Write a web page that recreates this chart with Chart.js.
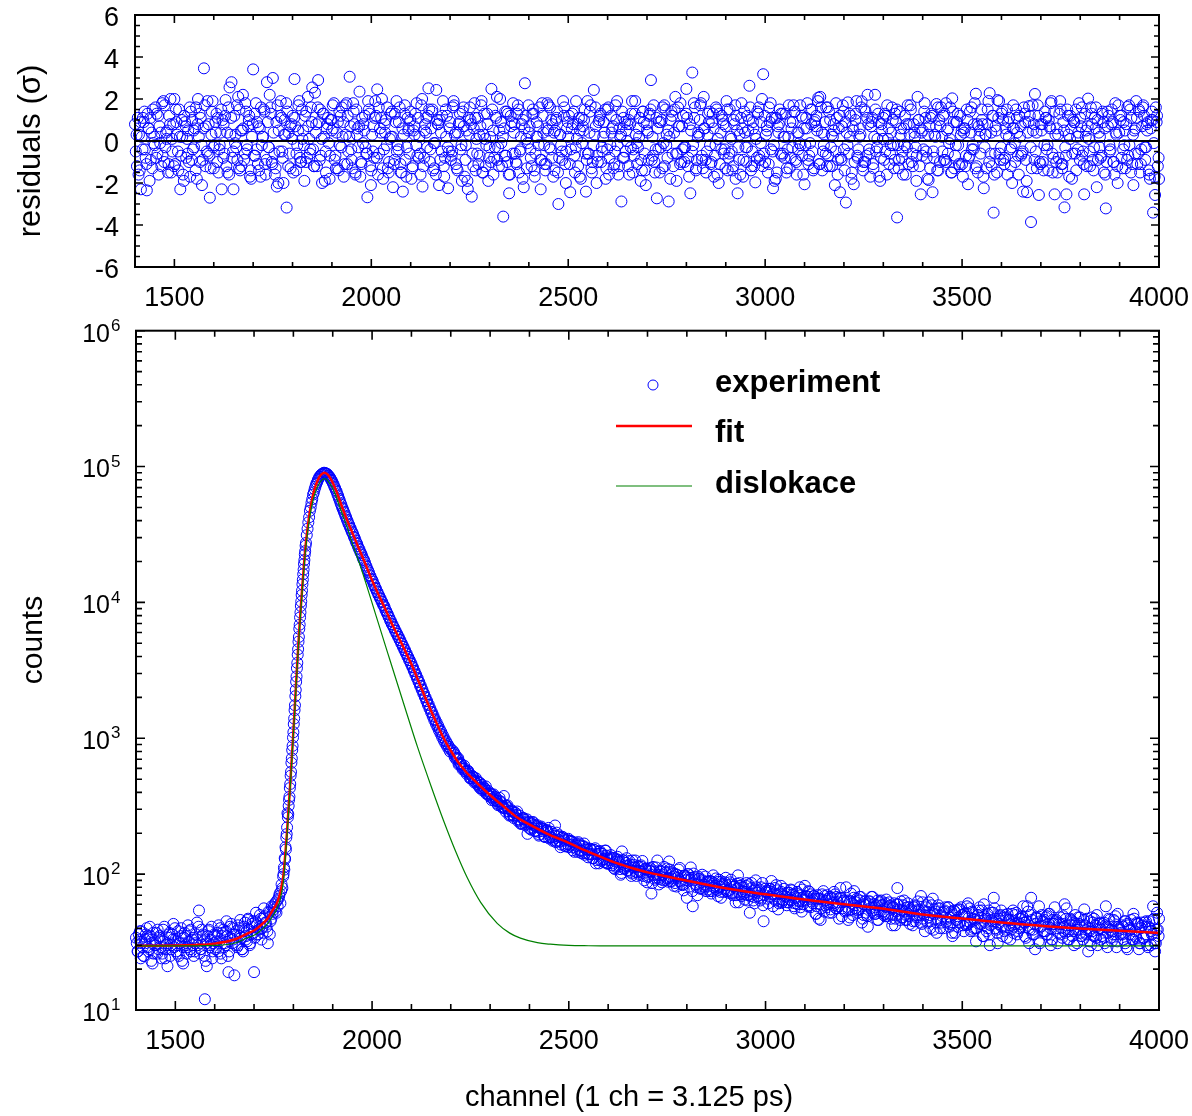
<!DOCTYPE html>
<html>
<head>
<meta charset="utf-8">
<script src="https://cdn.jsdelivr.net/npm/chart.js@4.4.1/dist/chart.umd.min.js"></script>
<style>
  html, body { margin: 0; padding: 0; background: #fff; }
  #wrap { position: relative; width: 1192px; height: 1116px; }
  #residBox { position: absolute; left: 0; top: 0; }
  #countsBox { position: absolute; left: 0; top: 300px; }
</style>
</head>
<body>
<div id="wrap">
  <div id="residBox"><canvas id="residChart" width="1192" height="320"></canvas></div>
  <div id="countsBox"><canvas id="countsChart" width="1192" height="816"></canvas></div>
</div>
<script>
const FONT = "'Liberation Sans', Arial, sans-serif";
const BOTTOM_TOP = 300; // page offset of the lower canvas

const channelMin = 1400, channelMax = 4000;
const xTickValues = [1500, 2000, 2500, 3000, 3500, 4000];
const residTickValues = [-6, -4, -2, 0, 2, 4, 6];
const countExponents = [1, 2, 3, 4, 5, 6];
const zeroLevel = 0;

// residuals (sigma), three interleaved runs, step 5 channels
const residStep = 5;
const residStartA = 1400;
const residualsA = [
  0.8, -1.2, 0.3, -2.3, 1.1, -0.4, -2.35, 0.6, -0.9, 1.5,
  -0.2, 1.3, -1.6, 0.4, -0.7, 1.7, 0.1, -1.1, 2.0, -0.5,
  2.0, 0.9, -1.4, -2.3, 0.2, 1.2, -0.8, 0.5, -1.7, 1.0,
  -0.3, 1.6, 2.0, -1.0, -2.1, 3.46, 0.7, -0.6, -2.7, 1.4,
  -1.3, 0.4, 1.1, -0.2, -2.3, 0.8, 1.95, -1.5, 2.55, 2.8,
  -2.3, 0.3, -0.9, 1.5, -1.2, 0.6, 1.8, -0.4, 1.2, -1.8,
  3.41, -0.7, 0.9, -1.4, 1.6, 0.2, -1.1, 2.8, -0.3, 1.3,
  3.0, -1.6, -2.17, 0.5, 1.9, -0.8, 1.0, -3.17, 0.4, -1.3,
  1.2, 2.95, -0.6, 1.7, -1.0, 0.1, -1.9, 1.4, 0.7, -0.4,
  2.55, -1.2, 0.8, 2.9, 1.5, -2.0, 0.2, -1.5, 1.1, -0.7,
  0.5, 1.8, -1.3, 0.9, -0.2, 1.6, -1.7, 0.3, 1.2, 3.06,
  -0.9, 1.4, -1.6, 0.6, 2.35, -1.1, 0.8, -0.3, -2.68, 1.3,
  -1.4, 0.7, 1.9, 2.46, -0.6, 1.1, -1.8, 0.4, 1.6, -1.0,
  0.2, -2.2, 1.3, -0.5, 0.9, -1.5, -2.41, 1.7, -0.3, 0.6,
  1.4, -1.2, 0.3, 1.8, -0.8, -1.6, -2.17, 0.5, 1.1, 2.51,
  -0.4, 1.5, -1.3, 2.43, 0.8, -0.9, 1.2, -1.7, 0.2, -2.25,
  0.9, -0.5, 1.7, -1.1, 0.4, 1.3, -1.9, 0.7, -0.2, -2.29,
  1.6, -2.65, 0.6, -1.4, 1.1, -0.7, 1.9, 0.3, -1.2, 0.8,
  -0.3, 2.48, -1.6, 1.2, -0.9, 0.5, -0.1, -3.6, 1.4, -1.0,
  -2.49, 0.7, 1.8, -0.6, 1.3, -1.5, 0.2, 1.0, 2.75, -1.3,
  0.4, -0.8, 1.5, -1.7, 0.9, -0.2, -2.3, 1.2, -1.1, 0.6,
  1.7, -0.4, 0.8, -1.4, 1.1, -3.0, 0.3, -0.9, 1.6, -0.5,
  0.2, -2.44, 1.3, -0.7, 1.9, -1.2, 0.5, -0.1, 1.0, -2.41,
  -0.6, 1.4, -1.5, 2.43, 0.7, -1.0, 1.2, -0.3, 0.9, -1.8,
  1.5, -0.8, 0.4, -1.3, 1.7, -0.2, 0.6, -2.88, 1.1, -0.5,
  0.8, -1.6, 1.3, -0.4, 1.9, -1.1, 0.2, -0.9, 1.4, -1.4,
  0.5, 1.2, 2.9, -0.7, -1.5, -2.73, 0.9, -0.3, 1.6, -1.2,
  0.3, -2.88, 1.0, -0.6, 1.5, -1.9, 0.7, 1.8, -0.4, -1.0,
  2.48, -0.8, -2.49, 3.26, 1.1, -1.3, 0.4, 1.7, -0.9, 0.6,
  -1.5, 1.3, -0.2, 0.9, -1.7, 1.6, 0.1, -1.1, 1.2, -0.6,
  0.7, -1.4, 1.5, -0.5, 1.0, -1.8, -2.49, 0.3, 1.8, -0.9,
  -0.3, 1.2, 2.63, -1.2, 0.6, -1.97, 1.4, -0.7, 0.9, 3.18,
  -1.0, 0.5, 1.6, -0.4, -2.25, 1.1, -1.5, 0.8, 1.3, -0.6,
  0.2, -1.3, 1.7, -0.8, 0.9, 1.4, -1.6, 0.4, -0.2, 1.1,
  -2.06, 0.6, -1.1, 1.5, -0.5, 0.9, 1.2, 2.06, 2.1, -1.4,
  0.3, 1.6, -0.7, 1.0, -1.2, 0.5, 1.8, -0.9, -2.44, 0.7,
  -0.4, -2.93, 1.84, 0.2, -1.5, -2.06, 1.3, -0.8, 0.6, 1.89,
  -1.0, 1.4, 2.2, -0.6, 0.9, -1.3, 1.5, 0.1, -1.7, 0.8,
  1.1, -0.5, 1.7, -1.1, 0.4, -0.2, 1.3, -3.64, -0.9, 0.6,
  -1.6, 1.2, -0.3, 0.8, 1.5, -1.2, 0.2, -0.7, 1.0, -2.54,
  0.5, 1.8, -0.8, -1.86, 1.1, -2.44, 0.3, 1.76, -1.4, 0.7,
  -0.5, 1.3, -1.0, 0.6, 1.6, 2.03, -1.3, 0.9, -0.2, 1.2,
  -1.1, 0.4, -0.7, -2.06, 1.4, -0.4, 0.8, 2.25, -1.5, 0.5,
  1.0, -2.25, 0.3, 1.5, 2.28, -1.2, -3.41, 0.7, 1.95, -0.6,
  1.3, -0.9, 0.6, -1.6, 1.1, -0.3, 1.7, -1.0, 0.4, 1.2,
  -0.7, -2.41, 0.9, -2.44, 1.66, -3.86, 0.5, 2.24, -1.3, -2.57,
  0.8, -1.0, 1.4, -0.4, 1.0, 1.8, -1.5, -2.54, 0.6, -0.8,
  1.5, -1.1, -3.16, -2.54, 0.3, 1.2, -0.6, 0.9, -1.4, 0.4,
  1.1, -0.7, -2.54, 0.5, 2.02, -1.2, 0.8, -0.3, 1.6, -0.9,
  0.2, 1.3, -1.5, -3.21, 0.7, -0.5, 1.5, -1.0, 0.4, -2.0,
  1.2, -0.8, 0.9, -1.3, 1.62, -0.2, 1.1, -2.1, 0.6, -1.1,
  1.4, -0.4, 1.7, -0.9, 0.5, -1.6, 1.0, -3.41, -2.57, 1.2,
  -1.81
];
const residStartB = 1402;
const residualsB = [
  -0.5, 1.1, -1.4, 0.2, 0.9, -0.8, 1.3, -1.9, 0.4, -0.1,
  1.6, -0.6, 0.7, -1.2, 1.9, -0.3, 0.5, 1.2, -1.5, 0.8,
  -1.1, 0.3, 1.5, -0.7, -1.6, 0.9, 0.1, -1.0, 1.4, -0.4,
  0.6, -1.8, 0.2, 1.1, -0.9, 1.7, -0.5, 0.8, -1.3, 1.9,
  -0.2, 1.3, -1.5, 0.4, 1.0, -0.6, -1.2, 1.6, 0.3, -0.8,
  1.2, -0.3, 2.1, -1.4, 0.5, -0.9, 1.4, 0.7, -1.7, 0.2,
  -0.7, 1.8, -1.1, 0.6, -0.2, 1.5, -1.6, 0.9, 2.2, -1.0,
  0.4, -1.3, 1.7, -0.5, 1.1, -2.0, 0.3, 1.4, -0.6, 0.8,
  -1.5, 0.7, -0.2, 1.9, -1.0, 0.5, 1.2, -0.8, 0.1, 1.6,
  -0.4, 2.3, -1.2, 0.9, -0.7, 1.3, -1.9, 0.6, -0.1, 1.0,
  1.7, -0.9, 0.4, -1.4, 1.2, 0.2, -1.1, 1.8, -0.5, 0.7,
  -1.3, 0.8, 1.5, -0.3, -1.7, 1.1, 0.5, -0.6, 1.9, -1.2,
  0.3, -0.8, 1.2, -1.6, 0.6, 2.0, -0.4, 1.0, -1.3, 0.1,
  1.4, -1.1, 0.9, -0.2, 1.6, -1.5, 0.3, -0.9, 1.1, -0.6,
  -1.8, 0.5, 1.3, -0.7, 0.2, 1.7, -1.2, 0.8, -0.3, 1.5,
  0.6, -1.4, -0.1, 1.0, -2.1, 0.4, 1.9, -0.8, 1.2, -0.5,
  -0.9, 1.6, 0.3, -1.3, 0.8, -0.4, 1.4, -1.7, 0.5, 1.1,
  1.0, -0.6, 1.8, 0.1, -1.1, 0.7, -1.5, 1.3, -0.2, -1.9,
  0.2, 1.5, -0.8, 1.1, -0.3, 2.0, -1.2, 0.6, -0.7, 1.3,
  -1.6, 0.9, 0.4, -1.0, 1.7, -0.5, 0.8, -2.2, 1.2, -0.1,
  0.7, -1.2, 1.3, -0.6, 0.2, 1.6, -0.9, 0.4, -1.4, 1.8,
  -0.3, 1.0, -1.7, 0.5, 1.4, -0.8, -0.2, 1.9, -1.1, 0.6,
  1.2, -0.4, 0.8, -1.5, 0.1, 1.1, -1.8, 0.7, 1.5, -0.9,
  -0.6, 1.7, -1.0, 0.3, -2.0, 0.9, 1.3, -0.5, 0.4, -1.3,
  1.6, -0.2, 0.6, -1.1, 1.0, -1.6, 0.2, 1.4, -0.8, 0.5,
  -1.2, 0.8, 1.9, -0.7, 0.3, -0.3, 1.1, -1.4, 0.9, -2.1,
  0.4, 1.3, -0.9, 1.7, -0.4, 0.6, -1.5, 1.0, -0.1, 1.5,
  -0.8, 0.2, 1.4, -1.2, 2.1, -0.6, 0.7, -1.0, 1.2, -0.3,
  1.1, -1.7, 0.5, -0.2, 1.6, -0.9, 0.3, 1.8, -1.3, 0.6,
  -0.5, 0.9, -1.1, 1.3, -0.7, 1.5, -2.0, 0.4, 1.0, -0.4,
  1.9, -0.8, 0.2, -1.4, 0.8, 1.2, -0.3, -1.6, 0.6, 1.4,
  -1.0, 0.5, 1.6, -0.5, -1.2, 0.1, 1.3, -0.9, 2.0, -0.6,
  0.3, -1.5, 0.9, 1.1, -0.2, -1.8, 0.7, 1.5, -0.7, 0.2,
  1.3, -0.4, -1.3, 0.6, 1.7, -0.9, 0.4, -0.1, 1.2, -1.6,
  -0.2, 1.8, -0.7, 0.8, -1.4, 1.0, 0.5, -1.1, 1.6, -0.5,
  0.9, -1.2, 1.4, -0.3, 0.2, -2.1, 1.1, 0.6, -0.8, 1.7,
  -1.4, 0.4, -0.6, 1.2, 0.7, -1.0, 1.9, -0.4, 0.3, -1.2,
  1.5, -0.7, 0.8, -1.7, 1.1, 0.2, -0.5, 1.3, -1.9, 0.5,
  -0.9, 1.2, 0.1, -0.6, 1.6, -1.3, 0.9, -0.2, 1.4, -0.8,
  0.6, -1.6, 1.7, 0.3, -1.0, 0.8, -0.3, 2.1, -1.2, 0.4,
  -0.4, 1.1, -1.8, 0.7, 1.3, -0.5, 0.2, -1.4, 1.0, 1.6,
  1.2, -0.9, 0.5, -0.1, -1.5, 1.4, -0.7, 0.9, -1.1, 0.3,
  -1.7, 0.6, 1.5, -0.8, 0.4, -0.2, 1.8, -1.2, 0.7, -0.6,
  0.8, -0.3, -1.3, 1.9, -0.6, 1.2, -1.6, 0.5, 1.1, -0.9,
  1.4, -1.1, 0.3, 0.9, -0.4, -2.0, 0.6, 1.5, -0.7, 0.2,
  -0.6, 1.6, -0.9, 0.4, 1.2, -1.3, 0.8, -0.5, 1.7, -1.0,
  0.5, -1.4, 1.1, -0.2, 0.7, 1.9, -0.8, 0.3, -1.5, 1.3,
  -1.1, 0.9, -0.3, 1.5, -1.7, 0.6, 1.0, -0.6, 0.2, 1.8,
  0.7, -0.5, 1.3, -1.2, 0.1, 1.6, -0.9, 1.1, -2.2, 0.4,
  -0.8, 1.4, 0.6, -1.0, 1.2, -0.4, 0.9, -1.6, 0.3, 1.7,
  1.0, -1.3, -0.2, 0.8, -0.7, 1.5, -1.1, 0.5, 1.9, -0.6,
  -1.5, 0.7, 1.2, -0.3, 0.9, -1.8, 1.4, -0.1, 1.6, -1.2
];
const residStartC = 1404;
const residualsC = [
  0.3, -1.6, 0.9, -0.4, 1.4, -1.1, 0.6, 1.1, -1.3, 0.2,
  -0.8, 1.2, -0.1, 1.8, -1.0, 0.4, -1.5, 0.8, 0.1, -1.2,
  1.5, -0.5, 0.2, 1.0, -1.9, 0.7, -0.6, 1.6, -0.9, 0.5,
  -1.4, 0.8, 1.3, -0.2, 0.6, -1.2, 1.9, -0.7, 0.3, -0.3,
  0.9, -1.0, -0.4, 1.5, -0.8, 1.2, 0.4, -1.6, 1.1, -0.5,
  -0.1, 1.7, -1.3, 0.5, 2.2, -0.6, -0.2, 1.0, -1.4, 0.8,
  1.3, -0.4, 0.7, -1.7, 0.2, 1.4, -0.9, -0.3, 1.6, -1.1,
  -0.6, 0.9, -2.0, 1.2, -0.5, 0.3, 1.8, -1.2, 0.7, 0.1,
  1.1, -1.4, 0.5, -0.8, 1.5, -0.2, -1.0, 2.1, -0.6, 0.9,
  -1.2, 0.4, 1.6, -0.9, 0.1, 1.3, -0.5, 0.8, -1.8, 1.0,
  0.6, -0.7, -1.3, 1.4, -0.3, 0.9, 1.7, -1.1, 0.2, -0.4,
  1.8, -1.5, 0.3, 0.7, -1.0, -0.1, 1.2, -0.6, 1.5, -2.1,
  -0.5, 1.1, -0.8, 1.6, 0.4, -1.3, 0.8, -0.2, -1.5, 1.3,
  0.2, -0.9, 1.9, -0.4, -1.1, 0.6, 1.3, -1.7, 0.5, 1.0,
  -1.3, 0.7, -0.2, 1.1, -0.6, 2.0, -0.8, 0.4, 1.2, -1.0,
  1.4, -0.1, -1.6, 0.8, 1.0, -0.5, -1.2, 1.5, -0.3, 0.6,
  -0.7, 1.9, 0.4, -1.4, 0.9, -0.2, 1.6, -0.9, -1.9, 0.3,
  0.8, -1.2, 1.1, -0.6, 0.3, 1.7, -1.5, 0.1, 1.3, -0.8,
  -1.0, 0.5, -0.3, 2.1, -1.2, 0.9, 0.2, -0.7, 1.4, -1.6,
  1.2, -0.6, 0.8, -1.1, 1.5, -0.4, -1.8, 0.6, 0.1, 1.7,
  -0.4, 1.3, -1.4, 0.2, 0.7, -0.9, 1.8, -0.2, -1.1, 0.5,
  1.6, -0.8, 0.4, 1.0, -1.5, 0.3, -0.5, 1.2, -2.0, 0.9,
  -1.1, 0.6, 1.4, -0.3, 0.8, -1.7, 1.1, 0.5, -0.6, 1.9,
  0.4, -1.3, -0.2, 1.6, -0.7, 1.0, -1.0, 0.2, 1.5, -0.4,
  -1.6, 1.2, 0.7, -0.5, 1.9, -1.2, 0.3, -0.8, 0.9, 0.0,
  1.0, -0.3, -1.5, 1.3, -0.1, 0.6, -1.9, 1.4, -0.6, 0.8,
  -0.9, 1.5, 0.2, -1.0, 1.1, -0.4, 0.9, -1.3, 1.7, -0.2,
  0.5, -1.8, 1.2, 0.4, -0.6, 1.6, -1.1, 0.7, -0.3, 1.3,
  -1.2, 0.8, -0.5, 1.8, -1.4, 0.2, 1.0, -0.7, 2.1, -0.9,
  0.3, 1.4, -1.0, 0.6, -0.2, -1.6, 1.3, -0.4, 0.8, -1.3,
  1.5, -0.6, 0.1, -1.2, 1.7, 0.5, -0.9, 1.1, -1.7, 0.4,
  -0.3, 1.0, -1.4, 0.9, 0.3, -0.8, 1.6, -0.1, -1.2, 1.2,
  0.7, -1.1, 1.8, -0.5, -1.9, 1.1, 0.4, -0.6, 1.3, -0.8,
  -1.5, 0.2, 0.9, -0.3, 1.4, -1.0, -0.4, 1.7, -0.7, 0.6,
  1.1, -0.9, -0.1, 1.5, -1.3, 0.7, 1.9, -1.1, 0.4, -0.2,
  -0.6, 1.6, -1.2, 0.3, 0.8, -0.5, -1.6, 1.2, -0.9, 1.4,
  0.9, -0.2, 1.3, -1.8, 0.5, 1.0, -0.7, 0.2, 1.6, -1.4,
  -1.0, 1.1, -0.4, 0.7, -1.1, 2.2, -0.3, 0.9, -0.8, 0.1,
  1.3, -1.6, 0.6, -0.2, 1.0, -0.9, 1.5, -1.3, 0.3, -0.5,
  -0.2, 0.8, -1.1, 1.7, -0.6, 0.4, -1.9, 1.0, 0.6, -0.7,
  1.4, -0.5, 0.3, -1.3, 1.2, -0.8, 0.7, 1.6, -1.0, 0.2,
  -0.9, 1.8, -0.6, 0.1, -1.5, 0.9, -0.2, 1.3, -1.2, 0.5,
  0.6, -1.2, 1.0, -0.7, 1.6, -0.4, -1.3, 0.8, 0.2, 1.5,
  -1.7, 0.3, 0.8, -1.0, 0.4, 1.2, -0.6, -1.5, 1.9, -0.3,
  1.0, -0.8, 1.5, 0.2, -1.2, 0.6, -0.1, 1.1, -1.6, 0.7,
  -0.5, 1.3, -1.9, 0.9, -0.3, 1.7, -0.9, 0.4, 1.2, -1.1,
  0.8, -0.2, 1.1, -1.4, 0.6, -0.6, 1.4, -1.0, 0.3, 1.9,
  -1.3, 0.5, -0.7, 1.2, 0.1, -1.8, 0.9, 1.5, -0.4, -0.9,
  1.6, -1.1, 0.2, 0.7, -0.5, 1.3, -1.4, 0.6, 1.0, -0.3,
  -0.7, 0.9, -1.6, 1.4, -0.2, 0.8, -1.0, 1.8, -1.2, 0.4,
  1.2, -0.4, 0.5, -0.9, 1.7, -1.5, 0.3, -0.6, 1.1, 1.5,
  -1.1, 1.6, -0.3, 0.8, -1.4, 0.6, 1.0, -1.7, 0.9, -0.8
];

// measured counts, stored in runs of channels
const baseStep = 5;
const baseStartA = 1400;
const countsBaseA = [
  34, 27, 38, 31, 25, 36, 29, 41, 33, 26,
  30, 39, 35, 24, 32, 28, 21, 37, 30, 43,
  33, 26, 31, 40, 22, 35, 29, 38, 27, 34,
  31, 44, 54, 28, 36, 12, 21, 39, 33, 27,
  35, 29, 42, 26, 37, 31, 45, 19, 34, 40,
  18, 38, 30, 46, 28, 41, 35, 47, 31, 43,
  19, 52, 36, 50, 40, 56, 44, 31, 36, 58,
  55, 62, 58, 72, 84, 100
];
const baseStartB = 1402;
const countsBaseB = [
  31, 36, 24, 29, 33, 40, 27, 35, 22, 30,
  37, 28, 32, 26, 41, 30, 34, 25, 36, 29,
  27, 38, 31, 23, 34, 30, 42, 28, 33, 25,
  36, 30, 26, 39, 32, 23, 35, 29, 41, 31,
  28, 37, 32, 24, 39, 30, 35, 27, 43, 33,
  36, 29, 40, 34, 27, 44, 32, 39, 36, 45,
  34, 42, 39, 47, 37, 49, 41, 53, 45, 51,
  60, 52, 66, 61, 79
];
const baseStartC = 1404;
const countsBaseC = [
  27, 33, 38, 25, 31, 35, 28, 23, 37, 32,
  26, 34, 29, 39, 24, 31, 36, 28, 33, 40,
  30, 25, 35, 29, 37, 26, 32, 39, 30, 27,
  33, 41, 28, 35, 25, 31, 38, 30, 24, 36,
  32, 27, 40, 35, 29, 38, 25, 41, 31, 36,
  30, 42, 35, 28, 38, 33, 46, 30, 41, 37,
  45, 36, 41, 33, 48, 44, 38, 52, 47, 57,
  53, 64, 69, 75, 96
];
const riseStart = 1776, riseStep = 1;
const countsRise = [
  112, 108, 131, 129, 158, 152, 186, 197, 221, 281,
  262, 276, 318, 352, 371, 430, 461, 530, 566, 660,
  712, 818, 880, 1012, 1108, 1272, 1398, 1610, 1752, 2040,
  2268, 2601, 2850, 3280, 3590, 4120, 4530, 5140, 5570, 6390,
  6860, 7750, 8440, 9420, 10150, 11330, 12210, 13600, 14680, 16150,
  17450, 19200, 20520, 22550, 23850, 26150
];
const peakStart = 1832, peakStep = 2;
const countsPeak = [
  27400, 31300, 34850, 38800, 42400, 47200, 50100, 54200, 57600, 62200,
  64600, 68100, 71000, 74400, 76300, 79400, 81400, 84000, 84800, 86800,
  87600, 88800, 88900, 90100, 89500, 89400, 88200, 88200, 86200, 85400,
  83500, 82300, 79700, 78300, 75800, 73900, 71200, 69400, 66900, 65300,
  62400, 60600, 58000, 56200, 53700, 52200, 49900, 48600, 46600, 45400,
  43500, 42400, 40600, 39500, 37900, 37100, 35600, 34800, 33300, 32700,
  31650, 30310, 29720, 28490, 27510, 26980, 25870, 24950, 24530, 23480,
  22990, 22310, 21350, 20720, 20390, 19620, 18760, 18300, 17510, 17180,
  16620, 15880, 15560, 14920, 14680, 14240, 13590, 13410, 12790, 12610,
  12050, 11890, 11370, 11230, 10760, 10620, 10150, 10040, 9580, 9470,
  9210, 8770, 8660, 8290, 8190, 7810, 7710, 7330, 7290, 6930,
  6880, 6590, 6520, 6210, 6170, 5890, 5850, 5580, 5560, 5290,
  5260, 5000, 4960, 4720, 4710, 4460, 4450, 4220, 4200, 3980,
  3960, 3760, 3750, 3550, 3550, 3350, 3330, 3140, 3120, 2950,
  2940, 2770, 2760, 2600, 2590, 2430, 2430, 2280, 2280, 2140,
  2130, 2010, 2000, 1880, 1880, 1760, 1770, 1650, 1660, 1550,
  1560, 1450, 1470, 1360, 1380, 1280, 1310, 1210, 1240, 1140,
  1170, 1080, 1110, 1020, 1050, 965, 995, 920, 950, 880,
  905, 840, 865, 800, 830
];
const tailStep = 5;
const tailStartA = 2205;
const countsTailA = [
  812, 725, 718, 641, 655, 590, 601, 548, 566, 511,
  528, 473, 489, 447, 468, 415, 432, 391, 410, 371,
  386, 349, 366, 322, 345, 310, 376, 288, 306, 276,
  295, 259, 281, 247, 270, 238, 259, 228, 198, 243,
  212, 238, 207, 229, 196, 224, 214, 188, 210, 183,
  205, 179, 228, 174, 193, 165, 187, 161, 180, 158,
  176, 150, 171, 153, 168, 144, 162, 139, 157, 141,
  152, 131, 150, 127, 146, 126, 141, 122, 137, 120,
  133, 116, 131, 113, 127, 109, 147, 111, 121, 106,
  118, 101, 117, 104, 114, 99, 113, 101, 110, 95,
  106, 72, 99, 94, 126, 92, 104, 90, 102, 93,
  124, 88, 101, 86, 99, 89, 97, 84, 98, 67,
  94, 112, 58, 91, 80, 92, 79, 90, 81, 88,
  77, 89, 75, 86, 78, 88, 74, 85, 77, 83,
  73, 84, 72, 81, 70, 98, 71, 80, 72, 82,
  70, 52, 79, 68, 90, 69, 77, 66, 45, 74,
  66, 75, 89, 72, 64, 76, 63, 74, 65, 72,
  62, 73, 64, 71, 61, 74, 63, 70, 60, 82,
  68, 59, 71, 61, 66, 58, 47, 46, 65, 69,
  57, 66, 55, 67, 59, 68, 58, 79, 56, 64,
  80, 46, 63, 55, 75, 62, 54, 64, 44, 60,
  52, 41, 63, 54, 60, 51, 64, 53, 59, 50,
  61, 49, 58, 51, 57, 47, 79, 55, 48, 59,
  46, 57, 49, 55, 45, 58, 50, 54, 69, 47,
  38, 53, 62, 45, 66, 51, 37, 56, 46, 52,
  54, 45, 57, 43, 35, 53, 46, 55, 44, 50,
  51, 42, 61, 44, 53, 40, 32, 50, 43, 54,
  60, 47, 40, 30, 52, 67, 45, 31, 49, 41,
  48, 39, 51, 42, 46, 37, 50, 44, 40, 47,
  58, 44, 58, 31, 67, 39, 28, 47, 58, 41,
  45, 38, 49, 43, 30, 46, 57, 40, 44, 36,
  43, 60, 56, 38, 47, 35, 44, 39, 48, 37,
  42, 55, 36, 27, 45, 38, 47, 34, 43, 40,
  35, 44, 58, 37, 41, 32, 46, 36, 51, 39,
  42, 33, 45, 28, 40, 36, 51, 35, 43, 31,
  44, 34, 41, 30, 45, 38, 58, 27, 52, 47
];
const tailStartB = 2207;
const countsTailB = [
  769, 751, 709, 647, 641, 597, 570, 573, 550, 510,
  520, 480, 461, 472, 430, 421, 427, 395, 380, 389,
  361, 371, 344, 330, 341, 316, 306, 317, 290, 270,
  288, 266, 273, 254, 236, 259, 252, 233, 241, 215,
  219, 231, 226, 205, 218, 216, 190, 209, 205, 189,
  186, 198, 172, 189, 174, 185, 182, 160, 166, 176,
  173, 158, 165, 146, 163, 149, 159, 143, 152, 140,
  150, 131, 155, 140, 120, 143, 128, 149, 121, 127,
  138, 120, 109, 129, 122, 99, 127, 109, 131, 115,
  104, 126, 112, 97, 114, 104, 125, 90, 108, 97,
  111, 86, 104, 112, 94, 98, 87, 113, 103, 88,
  108, 93, 82, 100, 94, 111, 85, 76, 95, 100,
  81, 94, 101, 84, 70, 93, 87, 77, 96, 81,
  89, 72, 98, 82, 76, 91, 67, 83, 87, 75,
  76, 91, 70, 81, 85, 62, 82, 75, 65, 86,
  84, 69, 75, 61, 80, 75, 64, 86, 70, 75,
  61, 78, 71, 66, 83, 55, 72, 62, 78, 68,
  73, 65, 76, 58, 68, 60, 80, 53, 68, 64,
  58, 74, 63, 69, 51, 70, 66, 56, 75, 59,
  70, 52, 66, 61, 71, 56, 47, 67, 62, 53,
  63, 54, 72, 50, 59, 66, 55, 68, 47, 63,
  50, 63, 56, 68, 51, 59, 46, 63, 59, 51,
  65, 51, 59, 42, 61, 53, 60, 46, 54, 64,
  50, 61, 43, 54, 57, 45, 63, 50, 43, 54,
  57, 44, 50, 59, 39, 53, 47, 56, 44, 40,
  57, 47, 41, 53, 50, 37, 54, 44, 57, 42,
  43, 58, 48, 38, 52, 46, 40, 54, 48, 35,
  49, 38, 54, 42, 45, 56, 39, 43, 50, 35,
  38, 48, 46, 33, 51, 41, 52, 38, 43, 49,
  44, 34, 53, 39, 46, 36, 48, 41, 31, 50,
  38, 48, 36, 51, 33, 43, 45, 31, 43, 40,
  49, 37, 42, 33, 46, 38, 50, 31, 43, 35,
  33, 42, 47, 38, 30, 44, 35, 50, 39, 33,
  43, 31, 41, 47, 34, 38, 45, 29, 41, 36,
  36, 45, 29, 42, 39, 33, 47, 34, 43, 31,
  42, 34, 45, 29, 40, 36, 47, 31, 39
];
const tailStartC = 2209;
const countsTailC = [
  782, 699, 713, 657, 612, 629, 566, 576, 507, 525,
  486, 508, 480, 430, 455, 424, 442, 385, 393, 351,
  386, 351, 329, 364, 333, 306, 320, 321, 270, 291,
  271, 283, 289, 248, 234, 254, 241, 253, 219, 237,
  242, 209, 222, 192, 220, 207, 188, 211, 219, 187,
  176, 192, 202, 178, 158, 188, 177, 162, 182, 164,
  173, 146, 161, 172, 149, 142, 168, 152, 133, 154,
  140, 151, 120, 141, 148, 125, 130, 149, 119, 130,
  132, 111, 124, 134, 114, 102, 126, 115, 107, 125,
  97, 112, 126, 103, 106, 116, 97, 109, 87, 109,
  105, 113, 91, 99, 84, 106, 99, 91, 110, 94,
  89, 103, 96, 81, 108, 88, 83, 97, 90, 100,
  91, 75, 95, 84, 96, 78, 99, 84, 75, 88,
  75, 88, 80, 93, 69, 81, 88, 74, 94, 75,
  87, 73, 81, 62, 78, 86, 69, 80, 74, 64,
  71, 86, 64, 77, 73, 67, 80, 59, 78, 73,
  78, 68, 58, 79, 71, 61, 82, 64, 69, 59,
  62, 77, 70, 56, 72, 64, 57, 77, 65, 69,
  75, 57, 65, 69, 51, 66, 60, 71, 53, 64,
  60, 68, 52, 74, 56, 62, 67, 49, 64, 54,
  64, 48, 61, 67, 56, 52, 68, 58, 50, 63,
  49, 60, 68, 52, 57, 46, 62, 64, 53, 49,
  57, 62, 47, 57, 42, 60, 51, 63, 48, 53,
  46, 57, 53, 42, 59, 48, 55, 44, 62, 50,
  59, 48, 40, 52, 55, 44, 59, 40, 49, 53,
  44, 57, 48, 37, 54, 46, 41, 55, 50, 38,
  52, 43, 56, 39, 47, 40, 50, 57, 43, 35,
  44, 51, 36, 46, 52, 40, 37, 47, 54, 41,
  50, 34, 46, 39, 54, 43, 36, 47, 41, 48,
  35, 45, 40, 50, 36, 43, 48, 32, 45, 38,
  46, 36, 51, 40, 33, 43, 46, 37, 48, 34,
  38, 47, 33, 42, 45, 30, 43, 39, 48, 35,
  46, 37, 40, 32, 48, 35, 42, 30, 44, 39,
  34, 42, 29, 46, 39, 36, 49, 32, 40, 37,
  41, 31, 43, 36, 46, 33, 38, 44, 28, 40,
  34, 44, 36, 41, 30, 46, 31, 39, 35
];

// fitted curve
const fitChannels = [1400, 1500, 1550, 1600, 1650, 1683, 1700, 1717, 1734, 1747,
  1760, 1768, 1775, 1779, 1783, 1787, 1791, 1795, 1799, 1803,
  1807, 1811, 1815, 1819, 1823, 1827, 1831, 1836, 1842, 1850,
  1857, 1865, 1872, 1879, 1886, 1893, 1900, 1910, 1923, 1937,
  1950, 1965, 1979, 1992, 2010, 2030, 2050, 2072, 2100, 2120,
  2140, 2160, 2182, 2199, 2220, 2240, 2260, 2284, 2310, 2340,
  2370, 2411, 2450, 2500, 2540, 2581, 2620, 2660, 2700, 2750,
  2830, 2918, 3000, 3088, 3200, 3291, 3400, 3545, 3650, 3798,
  3900, 4000];
const fitCounts = [29.7, 29.8, 30.1, 30.8, 33, 36.5, 38.5, 42, 47, 54,
  63, 76, 100, 135, 190, 282, 417, 646, 1000, 1585,
  2570, 4074, 6310, 9333, 13490, 19050, 26000, 35000, 47000, 62000,
  73000, 83000, 88000, 90000, 88000, 83000, 76000, 65000, 51000, 40000,
  32500, 25500, 20500, 16500, 12500, 9400, 7000, 5200, 3500, 2550,
  1850, 1370, 1000, 820, 660, 560, 490, 420, 360, 305,
  260, 223, 195, 170, 150, 134, 121, 111, 103, 96,
  86, 77, 71, 65.5, 60, 56, 50.5, 45.7, 42.8, 39.8,
  38.3, 36.9];

// dislocation component
const dislChannels = [1400, 1500, 1600, 1650, 1683, 1700, 1717, 1734, 1747, 1760,
  1768, 1775, 1779, 1783, 1787, 1791, 1795, 1799, 1803, 1807,
  1811, 1815, 1819, 1823, 1827, 1831, 1836, 1842, 1850, 1857,
  1865, 1872, 1879, 1886, 1893, 1900, 1910, 1923, 1937, 1950,
  1965, 1979, 2010, 2040, 2080, 2115, 2150, 2183, 2212, 2242,
  2276, 2318, 2350, 2377, 2420, 2453, 2500, 2550, 2600, 3000,
  3500, 4000];
const dislCounts = [29.6, 29.6, 29.9, 31, 34, 35.5, 38.5, 43, 49, 57,
  68, 90, 125, 178, 265, 395, 615, 950, 1500, 2440,
  3860, 5980, 8830, 12700, 17900, 24300, 32500, 43200, 56500, 66000,
  74500, 79500, 81500, 79500, 74500, 69000, 58500, 45700, 35500, 27000,
  20500, 15500, 7990, 4220, 1810, 871, 444, 242, 148, 94,
  62, 43.4, 36.8, 33.8, 31.3, 30.5, 29.9, 29.7, 29.6, 29.6,
  29.6, 29.6];

function run(start, step, values) {
  return values.map((v, i) => ({ x: start + i * step, y: v }));
}
function pairs(xs, ys) {
  return xs.map((x, i) => ({ x: x, y: ys[i] }));
}

const xMinor = [];
for (let v = channelMin + 100; v < channelMax; v += 100) if (v % 500 !== 0) xMinor.push(v);
const residMinor = [];
for (let v = -5.5; v < 6; v += 0.5) if (v % 2 !== 0) residMinor.push(v);
const logMajor = countExponents.map(e => Math.pow(10, e));
const logMinor = [];
countExponents.slice(0, -1).forEach(e => { for (let k = 2; k <= 9; k++) logMinor.push(k * Math.pow(10, e)); });

function drawBox(chart, yMajor, yMinor, majLen, minLen) {
  const ctx = chart.ctx, a = chart.chartArea;
  const xs = chart.scales.x, ys = chart.scales.y;
  ctx.save();
  ctx.strokeStyle = '#000';
  ctx.lineWidth = 1.6;
  ctx.beginPath();
  const vt = (v, len) => {
    const p = xs.getPixelForValue(v);
    ctx.moveTo(p, a.bottom); ctx.lineTo(p, a.bottom - len);
    ctx.moveTo(p, a.top); ctx.lineTo(p, a.top + len);
  };
  const ht = (v, len) => {
    const p = ys.getPixelForValue(v);
    ctx.moveTo(a.left, p); ctx.lineTo(a.left + len, p);
    ctx.moveTo(a.right, p); ctx.lineTo(a.right - len, p);
  };
  xTickValues.forEach(v => vt(v, majLen));
  xMinor.forEach(v => vt(v, minLen));
  yMajor.forEach(v => ht(v, majLen));
  yMinor.forEach(v => ht(v, minLen));
  ctx.stroke();
  ctx.lineWidth = 2;
  ctx.strokeRect(a.left, a.top, a.right - a.left, a.bottom - a.top);
  ctx.restore();
}

function verticalTitle(ctx, text, x, y, size) {
  ctx.save();
  ctx.translate(x, y);
  ctx.rotate(-Math.PI / 2);
  ctx.textAlign = 'center';
  ctx.textBaseline = 'middle';
  ctx.fillStyle = '#000';
  ctx.font = size + 'px ' + FONT;
  ctx.fillText(text, 0, 0);
  ctx.restore();
}

const residPlugin = {
  id: 'residFrame',
  afterDatasetsDraw(chart) {
    drawBox(chart, residTickValues, residMinor, 8, 5);
    verticalTitle(chart.ctx, 'residuals (\u03c3)', 31, 151, 31);
  }
};

const countsPlugin = {
  id: 'countsFrame',
  afterDatasetsDraw(chart) {
    drawBox(chart, logMajor, logMinor, 9, 6);
    const ctx = chart.ctx, ys = chart.scales.y;
    const T = BOTTOM_TOP;
    ctx.save();
    ctx.fillStyle = '#000';
    countExponents.forEach(e => {
      const p = ys.getPixelForValue(Math.pow(10, e));
      ctx.font = '25px ' + FONT;
      ctx.textAlign = 'right';
      ctx.textBaseline = 'middle';
      ctx.fillText('10', 110, p + 4);
      ctx.font = '17px ' + FONT;
      ctx.textAlign = 'left';
      ctx.textBaseline = 'top';
      ctx.fillText(String(e), 111, p - 13);
    });
    ctx.restore();
    verticalTitle(ctx, 'counts', 34, 640 - T, 30);
    ctx.save();
    ctx.fillStyle = '#000';
    ctx.font = '29px ' + FONT;
    ctx.textAlign = 'center';
    ctx.textBaseline = 'middle';
    ctx.fillText('channel (1 ch = 3.125 ps)', 629, 1098 - T);
    // legend
    ctx.strokeStyle = '#0000ff';
    ctx.lineWidth = 1;
    ctx.beginPath();
    ctx.arc(653, 385 - T, 5, 0, Math.PI * 2);
    ctx.stroke();
    ctx.strokeStyle = '#ff0000';
    ctx.lineWidth = 2.5;
    ctx.beginPath(); ctx.moveTo(616, 426 - T); ctx.lineTo(692, 426 - T); ctx.stroke();
    ctx.strokeStyle = '#008000';
    ctx.lineWidth = 1.2;
    ctx.beginPath(); ctx.moveTo(616, 486 - T); ctx.lineTo(692, 486 - T); ctx.stroke();
    ctx.font = 'bold 31px ' + FONT;
    ctx.textAlign = 'left';
    ctx.textBaseline = 'alphabetic';
    ctx.fillText('experiment', 715, 392 - T);
    ctx.fillText('fit', 715, 442 - T);
    ctx.fillText('dislokace', 715, 493 - T);
    ctx.restore();
  }
};

const xAxis = (height) => ({
  type: 'linear',
  min: channelMin,
  max: channelMax,
  grid: { display: false, drawTicks: false },
  border: { display: false },
  ticks: {
    color: '#000',
    font: { family: FONT, size: 27 },
    padding: 15,
    maxRotation: 0,
    autoSkip: false,
    callback: v => String(v)
  },
  afterBuildTicks: s => { s.ticks = xTickValues.map(v => ({ value: v })); },
  afterFit: s => { s.height = height; s.paddingLeft = 0; s.paddingRight = 0; }
});

const circleStyle = {
  pointStyle: 'circle',
  pointRadius: 5.5,
  borderWidth: 1,
  borderColor: '#0000ff',
  backgroundColor: 'rgba(0,0,0,0)',
  clip: false
};

new Chart(document.getElementById('residChart'), {
  type: 'scatter',
  data: {
    datasets: [
      {
        label: 'zero',
        data: [{ x: channelMin, y: zeroLevel }, { x: channelMax, y: zeroLevel }],
        showLine: true,
        borderColor: '#000',
        borderWidth: 2,
        pointRadius: 0,
        order: 1
      },
      Object.assign({
        label: 'residuals',
        data: [].concat(
          run(residStartA, residStep, residualsA),
          run(residStartB, residStep, residualsB),
          run(residStartC, residStep, residualsC)
        ),
        order: 2
      }, circleStyle)
    ]
  },
  options: {
    responsive: false,
    animation: false,
    events: [],
    layout: { padding: { left: 0, right: 33, top: 15, bottom: 0 } },
    plugins: { legend: { display: false }, tooltip: { enabled: false } },
    scales: {
      x: xAxis(53),
      y: {
        type: 'linear',
        min: -6,
        max: 6,
        grid: { display: false, drawTicks: false },
        border: { display: false },
        ticks: {
          color: '#000',
          font: { family: FONT, size: 27 },
          padding: 16,
          labelOffset: 3.5,
          callback: v => String(v)
        },
        afterBuildTicks: s => { s.ticks = residTickValues.map(v => ({ value: v })); },
        afterFit: s => { s.width = 135; s.paddingTop = 0; s.paddingBottom = 0; }
      }
    }
  },
  plugins: [residPlugin]
});

new Chart(document.getElementById('countsChart'), {
  type: 'scatter',
  data: {
    datasets: [
      {
        label: 'dislokace',
        data: pairs(dislChannels, dislCounts),
        showLine: true,
        borderColor: '#008000',
        borderWidth: 1.2,
        pointRadius: 0,
        cubicInterpolationMode: 'monotone',
        order: 1
      },
      {
        label: 'fit',
        data: pairs(fitChannels, fitCounts),
        showLine: true,
        borderColor: '#ff0000',
        borderWidth: 2.5,
        pointRadius: 0,
        cubicInterpolationMode: 'monotone',
        order: 2
      },
      Object.assign({
        label: 'experiment',
        data: [].concat(
          run(baseStartA, baseStep, countsBaseA),
          run(baseStartB, baseStep, countsBaseB),
          run(baseStartC, baseStep, countsBaseC),
          run(riseStart, riseStep, countsRise),
          run(peakStart, peakStep, countsPeak),
          run(tailStartA, tailStep, countsTailA),
          run(tailStartB, tailStep, countsTailB),
          run(tailStartC, tailStep, countsTailC)
        ),
        order: 3
      }, circleStyle)
    ]
  },
  options: {
    responsive: false,
    animation: false,
    events: [],
    layout: { padding: { left: 0, right: 33, top: 30.7, bottom: 0 } },
    plugins: { legend: { display: false }, tooltip: { enabled: false } },
    scales: {
      x: xAxis(106),
      y: {
        type: 'logarithmic',
        min: 10,
        max: 1e6,
        grid: { display: false, drawTicks: false },
        border: { display: false },
        ticks: { display: false },
        afterBuildTicks: s => { s.ticks = logMajor.map(v => ({ value: v })); },
        afterFit: s => { s.width = 136; s.paddingTop = 0; s.paddingBottom = 0; }
      }
    }
  },
  plugins: [countsPlugin]
});
</script>
</body>
</html>
